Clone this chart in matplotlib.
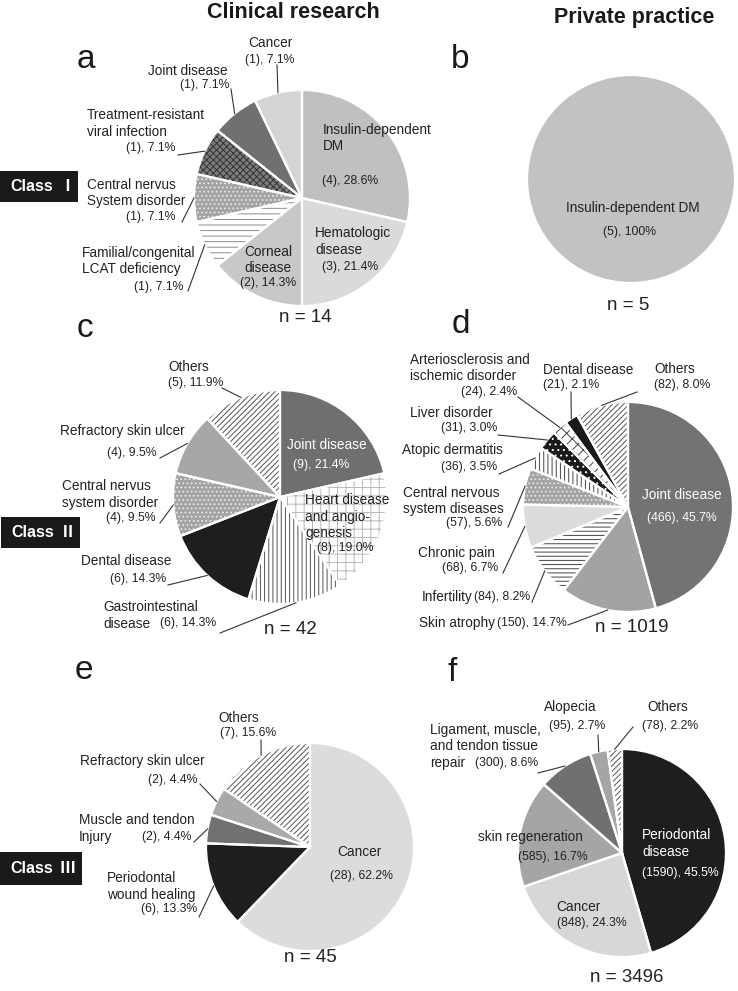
import numpy as np
import matplotlib
matplotlib.use("Agg")
import matplotlib.pyplot as plt
from matplotlib.patches import Rectangle

plt.rcParams['font.family'] = ['Liberation Sans', 'Noto Sans CJK JP', 'DejaVu Sans']
plt.rcParams['hatch.linewidth'] = 0.7

W, H = 738, 991
TXT = '#222222'
NAME_FS = 9.8
NUM_FS = 8.8
N_FS = 13.5
LS = 16.5   # pixel distance between lines of a label

# ---- data ----
a_names = ["Insulin-dependent\nDM", "Hematologic\ndisease", "Corneal\ndisease",
           "Familial/congenital\nLCAT deficiency", "Central nervus\nSystem disorder",
           "Treatment-resistant\nviral infection", "Joint disease", "Cancer"]
a_counts = [4, 3, 2, 1, 1, 1, 1, 1]

b_names = ["Insulin-dependent DM"]
b_counts = [5]

c_names = ["Joint disease", "Heart disease\nand angio-\ngenesis", "Gastrointestinal\ndisease",
           "Dental disease", "Central nervus\nsystem disorder", "Refractory skin ulcer", "Others"]
c_counts = [9, 8, 6, 6, 4, 4, 5]

d_names = ["Joint disease", "Skin atrophy", "Infertility", "Chronic pain",
           "Central nervous\nsystem diseases", "Atopic dermatitis", "Liver disorder",
           "Arteriosclerosis and\nischemic disorder", "Dental disease", "Others"]
d_counts = [466, 150, 84, 68, 57, 36, 31, 24, 21, 82]

e_names = ["Cancer", "Periodontal\nwound healing", "Muscle and tendon\nInjury",
           "Refractory skin ulcer", "Others"]
e_counts = [28, 6, 2, 2, 7]

f_names = ["Periodontal\ndisease", "Cancer", "skin regeneration",
           "Ligament, muscle,\nand tendon tissue\nrepair", "Alopecia", "Others"]
f_counts = [1590, 848, 585, 300, 95, 78]

class_labels = ["\u2160", "\u2161", "\u2162"]

# ---- styles (facecolor, hatch, hatch colour) ----
DOTS = ('#a4a4a4', '....', '#ececec')
DIAG = ('white', '//////', '#555555')
a_styles = [('#c0c0c0', None, None), ('#dadada', None, None), ('#c8c8c8', None, None),
            ('white', '---', '#8a8a8a'), DOTS, ('#7c7c7c', 'xxxxx', '#333333'),
            ('#707072', None, None), ('#d4d4d4', None, None)]
b_styles = [('#c2c2c2', None, None)]
c_styles = [('#6f6f71', None, None), ('white', '++', '#b8b8b8'), ('white', '||||', '#555555'),
            ('#1e1e1e', None, None), DOTS, ('#a7a7a7', None, None), DIAG]
d_styles = [('#737375', None, None), ('#a3a3a3', None, None), ('white', '----', '#444444'),
            ('#dcdcdc', None, None), DOTS, ('white', '||||', '#444444'),
            ('#1a1a1a', '...', 'white'), ('white', 'xxx', '#444444'),
            ('#1a1a1a', None, None), DIAG]
e_styles = [('#dcdcdc', None, None), ('#1e1e1e', None, None), ('#717173', None, None),
            ('#a9a9a9', None, None), DIAG]
f_styles = [('#1e1e1e', None, None), ('#d7d7d7', None, None), ('#a5a5a5', None, None),
            ('#707072', None, None), ('#a5a5a5', None, None), DIAG]

# ---- label layout: (name x, first line y, ha), (number x, y, ha), leader start, colour ----
a_layout = [((323, 130, 'left'), (322, 181, 'left'), None, TXT),
            ((315, 233, 'left'), (322, 267, 'left'), None, TXT),
            ((268, 252, 'center'), (268, 283, 'center'), None, TXT),
            ((82, 253, 'left'), (183, 287, 'right'), (188, 291), TXT),
            ((87, 185, 'left'), (176, 217, 'right'), (182, 222), TXT),
            ((87, 115, 'left'), (176, 148, 'right'), (178, 155), TXT),
            ((188, 71, 'center'), (230, 85, 'right'), (231, 89), TXT),
            ((270, 43, 'center'), (270, 60, 'center'), (277, 65), TXT)]
b_layout = [((633, 208, 'center'), (630, 232, 'center'), None, TXT)]
c_layout = [((287, 445, 'left'), (293, 465, 'left'), None, 'white'),
            ((305, 500, 'left'), (317, 548, 'left'), None, TXT),
            ((103, 607, 'left'), (160, 623, 'left'), (220, 633), TXT),
            ((126, 561, 'center'), (166, 579, 'right'), (168, 585), TXT),
            ((62, 486, 'left'), (156, 518, 'right'), (160, 523), TXT),
            ((122, 431, 'center'), (157, 453, 'right'), (160, 458), TXT),
            ((189, 367, 'center'), (168, 383, 'left'), (222, 388), TXT)]
d_layout = [((682, 495, 'center'), (682, 518, 'center'), None, 'white'),
            ((419, 623, 'left'), (567, 623, 'right'), (568, 625), TXT),
            ((422, 597, 'left'), (530, 597, 'right'), (532, 602), TXT),
            ((418, 553, 'left'), (498, 568, 'right'), (503, 573), TXT),
            ((403, 493, 'left'), (502, 523, 'right'), (508, 527), TXT),
            ((402, 450, 'left'), (497, 467, 'right'), (499, 474), TXT),
            ((410, 413, 'left'), (497, 428, 'right'), (498, 435), TXT),
            ((410, 360, 'left'), (517, 392, 'right'), (518, 397), TXT),
            ((543, 370, 'left'), (543, 385, 'left'), (571, 392), TXT),
            ((654, 369, 'left'), (654, 385, 'left'), (637, 392), TXT)]
e_layout = [((359, 852, 'center'), (362, 876, 'center'), None, TXT),
            ((107, 878, 'left'), (197, 909, 'right'), (199, 917), TXT),
            ((79, 820, 'left'), (192, 837, 'right'), (194, 842), TXT),
            ((142, 761, 'center'), (197, 780, 'right'), (200, 784), TXT),
            ((239, 718, 'center'), (248, 733, 'center'), (261, 740), TXT)]
f_layout = [((642, 835, 'left'), (642, 873, 'left'), None, 'white'),
            ((578, 907, 'center'), (592, 923, 'center'), None, TXT),
            ((530, 837, 'center'), (553, 857, 'center'), None, TXT),
            ((430, 730, 'left'), (475, 763, 'left'), (538, 773), TXT),
            ((570, 707, 'center'), (577, 726, 'center'), (598, 735), TXT),
            ((668, 707, 'center'), (670, 726, 'center'), (633, 727), TXT)]

fig = plt.figure(figsize=(W / 100, H / 100), dpi=100)
ax = fig.add_axes([0, 0, 1, 1])


def pct_text(c, total):
    if c == total:
        return "(%d), 100%%" % c
    return "(%d), %.1f%%" % (c, 100.0 * c / total)


def pie_panel(counts, names, cx, cy, r, styles, layout, n_xy):
    total = sum(counts)
    # y axis is inverted: start at -90 and go "counterclock" = clockwise from top on screen
    wedges, _ = ax.pie(counts, center=(cx, cy), radius=r, startangle=-90,
                       counterclock=True, colors=[s[0] for s in styles],
                       wedgeprops=dict(linewidth=0), frame=True)
    for w, (fc, h, hc) in zip(wedges, styles):
        if h:
            w.set_hatch(h)
            w.set_edgecolor(hc)
    ax.pie(counts, center=(cx, cy), radius=r, startangle=-90, counterclock=True,
           wedgeprops=dict(fill=False, edgecolor='white', linewidth=1.6), frame=True)

    edges = np.cumsum([0] + list(counts)) / total
    mids = (edges[:-1] + edges[1:]) / 2 * 2 * np.pi
    for i, (name, c) in enumerate(zip(names, counts)):
        (nx, ny, nha), (px, py, pha), lead, col = layout[i]
        for k, line in enumerate(name.split("\n")):
            ax.text(nx, ny + k * LS, line, ha=nha, va='center', fontsize=NAME_FS, color=col)
        ax.text(px, py, pct_text(c, total), ha=pha, va='center', fontsize=NUM_FS, color=col)
        if lead is not None:
            ex = cx + r * np.sin(mids[i])
            ey = cy - r * np.cos(mids[i])
            ax.plot([lead[0], ex], [lead[1], ey], color='#333333', lw=0.8)
    ax.text(n_xy[0], n_xy[1], "n = %d" % total, ha='center', va='center',
            fontsize=N_FS, color=TXT)


pie_panel(a_counts, a_names, 302, 198, 108, a_styles, a_layout, (305, 318))
pie_panel(b_counts, b_names, 631, 179, 104, b_styles, b_layout, (628, 306))
pie_panel(c_counts, c_names, 280, 497, 107, c_styles, c_layout, (290, 630))
pie_panel(d_counts, d_names, 628, 507, 105, d_styles, d_layout, (632, 628))
pie_panel(e_counts, e_names, 310, 847, 104, e_styles, e_layout, (310, 958))
pie_panel(f_counts, f_names, 622, 853, 104, f_styles, f_layout, (627, 977))

# column titles
ax.text(293, 13, "Clinical research", ha='center', va='center', fontsize=15.5,
        fontweight='bold', color='#1a1a1a')
ax.text(634, 17, "Private practice", ha='center', va='center', fontsize=15.5,
        fontweight='bold', color='#1a1a1a')

# panel letters
for letter, x, y in [('a', 77, 68), ('b', 451, 68), ('c', 77, 337),
                     ('d', 452, 333), ('e', 75, 679), ('f', 447, 681)]:
    ax.text(x, y, letter, ha='left', va='baseline', fontsize=24, color='#1a1a1a')

# class boxes
for roman, (x0, y0, bw, bh) in zip(class_labels, [(0, 171, 78, 31), (1, 517, 79, 31),
                                                  (0, 852, 82, 33)]):
    ax.add_patch(Rectangle((x0, y0), bw, bh, facecolor='#1a1a1a', edgecolor='none'))
    ax.text(x0 + 32, y0 + bh / 2, "Class", ha='center', va='center', fontsize=11.5,
            fontweight='bold', color='white')
    ax.text(x0 + 67, y0 + bh / 2, roman, ha='center', va='center', fontsize=11.5,
            fontweight='bold', color='white')

ax.set_xlim(0, W)
ax.set_ylim(H, 0)
ax.set_aspect('auto')
ax.axis('off')

fig.savefig('out.png', dpi=100, facecolor='white')
